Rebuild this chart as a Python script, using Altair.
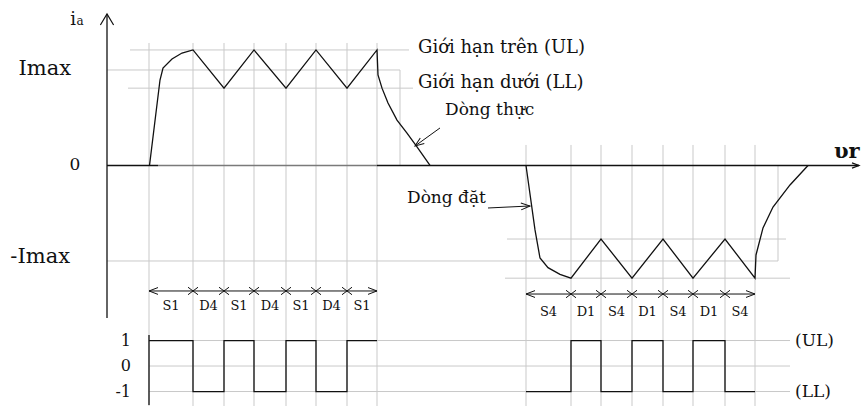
import altair as alt
import pandas as pd

# ---------------------------------------------------------------- data
# switching instants (time units) of the positive and negative half-cycles
T_POS = [42, 86, 117, 147, 179, 209, 240, 270]
T_NEG = [419, 464, 494, 525, 556, 586, 618, 648]
MODE_POS = ["S1", "D4", "S1", "D4", "S1", "D4", "S1"]
MODE_NEG = ["S4", "D1", "S4", "D1", "S4", "D1", "S4"]
STATE_POS = [1, -1, 1, -1, 1, -1, 1]      # comparator output per interval
STATE_NEG = [-1, 1, -1, 1, -1, 1, -1]

I_MAX = 10.0
BAND_POS = (8.1, 12.1)      # lower / upper limit, positive half-cycle
BAND_NEG = (-11.8, -7.7)    # lower / upper limit, negative half-cycle

# current before the first peak and after the last switching
RISE_T = [42.5, 53, 56, 65, 75]
RISE_I = [0.0, 8.95, 10.2, 11.15, 11.78]
DECAY_T = [271, 275, 281, 290, 300, 310, 323]
DECAY_I = [9.48, 8.1, 6.54, 4.76, 3.4, 1.94, 0.0]
FALL_T = [419, 428, 433, 441, 453]
FALL_I = [0.0, -6.75, -9.69, -10.7, -11.4]
RECOV_T = [649, 656, 666, 683, 701]
RECOV_I = [-9.37, -6.54, -4.35, -2.04, 0.0]

# extents of the reference lines (level, from, to)
HGRID = [
    (BAND_POS[1], 23, 302), (I_MAX, 0, 293), (BAND_POS[0], 21, 306),
    (BAND_NEG[1], 400, 679), (-I_MAX, 0, 671), (BAND_NEG[0], 398, 683),
]
SIG_LEVELS = [1, 0, -1]
SIG_SPAN = (42, 683)

# ---------------------------------------------------------------- layout
W, H = 862, 409
T_DOM = [-107, 755]
I_DOM = [-25.5, 17.33]
SIG_BASE, SIG_GAIN = -21.0, 2.67          # where the comparator strip sits
ROW_ARROW = {"pos": -13.14, "neg": -13.46}
ROW_LABEL = {"pos": -14.71, "neg": -15.29}
FONT = "DejaVu Serif"
GRID = "#c9c9c9"
INK = "#111111"

xs = alt.Scale(domain=T_DOM, nice=False, zero=False)
ys = alt.Scale(domain=I_DOM, nice=False, zero=False)


def X(f="t"):
    return alt.X(f"{f}:Q", scale=xs, axis=None)


def Y(f="i"):
    return alt.Y(f"{f}:Q", scale=ys, axis=None)


def sig(s):
    return SIG_BASE + SIG_GAIN * s


# ---------------------------------------------------------------- grid
hgrid = pd.DataFrame([{"t": a, "t2": b, "i": v, "i2": v} for v, a, b in HGRID]
                     + [{"t": SIG_SPAN[0], "t2": SIG_SPAN[1], "i": sig(s), "i2": sig(s)}
                        for s in SIG_LEVELS])
vgrid = pd.DataFrame([{"t": t, "i": 12.83} for t in T_POS] + [{"t": t, "i": 2.15} for t in T_NEG])
vgrid_short = pd.DataFrame([{"t": 293, "i": I_MAX, "i2": 0.0}, {"t": 671, "i": 0.0, "i2": -I_MAX}])

grid_h = alt.Chart(hgrid).mark_rule(color=GRID, strokeWidth=1).encode(
    x=X(), x2="t2:Q", y=Y(), y2="i2:Q")
grid_v = alt.Chart(vgrid).mark_rule(color=GRID, strokeWidth=1).encode(
    x=X(), y=Y(), y2=alt.value(406))
grid_vs = alt.Chart(vgrid_short).mark_rule(color=GRID, strokeWidth=1).encode(
    x=X(), y=Y(), y2="i2:Q")

# ---------------------------------------------------------------- axes
axes_df = pd.DataFrame([
    {"t": 0, "t2": 0, "i": 15.86, "i2": -15.97, "c": "k"},
    {"t": 0, "t2": 51, "i": 0, "i2": 0, "c": "k"},
    {"t": 51, "t2": 270, "i": 0, "i2": 0, "c": "g"},
    {"t": 270, "t2": 752, "i": 0, "i2": 0, "c": "k"},
])
axes = alt.Chart(axes_df).mark_rule(strokeWidth=1.3).encode(
    x=X(), x2="t2:Q", y=Y(), y2="i2:Q",
    color=alt.Color("c:N", scale=alt.Scale(domain=["k", "g"], range=[INK, "#7a7a7a"]), legend=None))
sig_axis = alt.Chart(pd.DataFrame({"t": [T_POS[0]]})).mark_rule(color=INK, strokeWidth=1.3).encode(
    x=X(), y=alt.value(335), y2=alt.value(405))

# ---------------------------------------------------------------- current
def band_path(times, states, band, lead_t, lead_i, tail_t, tail_i):
    lo, hi = band
    pts = list(zip(lead_t, lead_i))
    for t, s in zip(times[1:], states):
        pts.append((t, hi if s > 0 else lo))
    pts += list(zip(tail_t, tail_i))
    return pts


rows = []
for name, pts in [("pos", band_path(T_POS, STATE_POS, BAND_POS, RISE_T, RISE_I, DECAY_T, DECAY_I)),
                  ("neg", band_path(T_NEG, STATE_NEG, BAND_NEG, FALL_T, FALL_I, RECOV_T, RECOV_I))]:
    for k, (t, i) in enumerate(pts):
        rows.append({"seg": name, "k": k, "t": t, "i": i})
current = alt.Chart(pd.DataFrame(rows)).mark_line(color=INK, strokeWidth=1.3).encode(
    x=X(), y=Y(), detail="seg:N", order="k:Q")

# ---------------------------------------------------------------- comparator output
srows = []
for name, times, states in [("pos", T_POS, STATE_POS), ("neg", T_NEG, STATE_NEG)]:
    for k, t in enumerate(times):
        srows.append({"seg": name, "k": k, "t": t, "s": states[min(k, len(states) - 1)]})
signal = alt.Chart(pd.DataFrame(srows)).transform_calculate(
    i=f"{SIG_BASE} + {SIG_GAIN} * datum.s").mark_line(
    color=INK, strokeWidth=1.3, interpolate="step-after").encode(
    x=X(), y=Y(), detail="seg:N", order="k:Q")

# ---------------------------------------------------------------- interval arrows
LEFT = "M1,-0.38L0,0L1,0.38"
RIGHT = "M-1,-0.38L0,0L-1,0.38"
UP = "M-0.6,1L0,0L0.6,1"
CROSS = "M-1,-0.75L1,0.75M-1,0.75L1,-0.75"

spans, ends_l, ends_r, crosses, mlabels = [], [], [], [], []
for name, times, modes in [("pos", T_POS, MODE_POS), ("neg", T_NEG, MODE_NEG)]:
    r = ROW_ARROW[name]
    spans.append({"t": times[0], "t2": times[-1], "i": r, "i2": r})
    ends_l.append({"t": times[0], "i": r})
    ends_r.append({"t": times[-1], "i": r})
    crosses += [{"t": t, "i": r} for t in times[1:-1]]
    mlabels += [{"t": (a + b) / 2, "i": ROW_LABEL[name], "txt": m}
                for a, b, m in zip(times[:-1], times[1:], modes)]

span_rules = alt.Chart(pd.DataFrame(spans)).mark_rule(color=INK, strokeWidth=1).encode(
    x=X(), x2="t2:Q", y=Y(), y2="i2:Q")


def marker(df, shape, size, angle=0, width=1.0):
    return alt.Chart(pd.DataFrame(df)).mark_point(
        shape=shape, size=size, angle=angle, filled=False, opacity=1,
        stroke=INK, strokeWidth=width).encode(x=X(), y=Y())


m_left = marker(ends_l, LEFT, 324)
m_right = marker(ends_r, RIGHT, 324)
m_cross = marker(crosses, CROSS, 100)
mode_text = alt.Chart(pd.DataFrame(mlabels)).mark_text(
    font=FONT, fontSize=13, color=INK, baseline="middle").encode(x=X(), y=Y(), text="txt:N")

# ---------------------------------------------------------------- axis arrowheads and pointers
tip_up = marker([{"t": 0, "i": 15.86}], UP, 484, width=1.2)
tip_right = marker([{"t": 752, "i": 0}], RIGHT, 196, width=1.2)

pointer_df = pd.DataFrame([
    {"t": 333, "t2": 308, "i": 3.93, "i2": 2.04},
    {"t": 381, "t2": 423, "i": -4.45, "i2": -4.24},
])
pointers = alt.Chart(pointer_df).mark_rule(color=INK, strokeWidth=1).encode(
    x=X(), x2="t2:Q", y=Y(), y2="i2:Q")
head_actual = marker([{"t": 308, "i": 2.04}], LEFT, 324, angle=324)
head_ref = marker([{"t": 423, "i": -4.24}], RIGHT, 324, angle=357)

# ---------------------------------------------------------------- text
def label(df, size, align="left", baseline="alphabetic", weight="normal"):
    return alt.Chart(pd.DataFrame(df)).mark_text(
        font=FONT, fontSize=size, align=align, baseline=baseline, fontWeight=weight,
        color=INK).encode(x=X(), y=Y(), text="txt:N")


lab_big_r = label([
    {"t": -36, "i": 9.48, "txt": "Imax"},
    {"t": -37, "i": -10.2, "txt": "-Imax"},
], 21, align="right")
lab_zero = label([{"t": -32, "i": -0.47, "txt": "0"}], 17, align="center")
lab_i = label([{"t": -34, "i": 14.71, "txt": "i"}], 18, align="center")
lab_a = label([{"t": -27, "i": 14.71, "txt": "a"}], 12, align="center")
lab_notes = label([
    {"t": 311, "i": 11.78, "txt": "Giới hạn trên (UL)"},
    {"t": 311, "i": 8.12, "txt": "Giới hạn dưới (LL)"},
], 18)
lab_notes2 = label([
    {"t": 338, "i": 5.29, "txt": "Dòng thực"},
    {"t": 300, "i": -3.93, "txt": "Dòng đặt"},
], 17)
lab_axis = label([{"t": 727, "i": 0.75, "txt": "υr"}], 21, weight="bold")

sig_lab = alt.Chart(pd.DataFrame({"s": SIG_LEVELS, "t": [24] * 3,
                                  "txt": [str(s) for s in SIG_LEVELS]})).transform_calculate(
    i=f"{SIG_BASE} + {SIG_GAIN} * datum.s").mark_text(
    font=FONT, fontSize=16, align="right", baseline="middle", color=INK).encode(
    x=X(), y=Y(), text="txt:N")
lim_lab = alt.Chart(pd.DataFrame({"s": [1, -1], "t": [688, 688],
                                  "txt": ["(UL)", "(LL)"]})).transform_calculate(
    i=f"{SIG_BASE} + {SIG_GAIN} * datum.s").mark_text(
    font=FONT, fontSize=17, align="left", baseline="middle", color=INK).encode(
    x=X(), y=Y(), text="txt:N")

chart = alt.layer(
    grid_h, grid_v, grid_vs, axes, sig_axis, current, signal,
    span_rules, m_left, m_right, m_cross, mode_text,
    tip_up, tip_right, pointers, head_actual, head_ref,
    lab_big_r, lab_zero, lab_i, lab_a, lab_notes, lab_notes2, lab_axis, sig_lab, lim_lab,
).properties(
    width=W, height=H, padding=0,
    autosize=alt.AutoSizeParams(type="none"),
    background="white",
).configure_view(stroke=None)

chart.save("out.html", embed_options={"renderer": "svg", "actions": False})
